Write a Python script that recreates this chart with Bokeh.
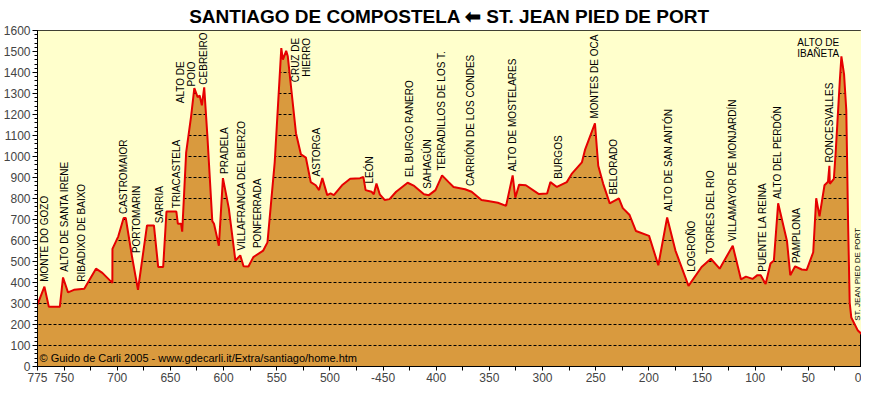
import math
from bokeh.plotting import figure
from bokeh.models import Range1d, FixedTicker, Label
from bokeh.core.properties import value
from bokeh.embed import file_html
from bokeh.resources import INLINE

# ---- profile data (km to Santiago, elevation m) ----
KM = [775, 768.5, 764.3, 754, 751, 746.3, 740.7, 731, 720, 714, 704.6, 704.5, 699, 694, 692,
      686, 680.5, 672, 665.5, 661.5, 656.8, 653.7, 644.4, 643, 640, 638.9, 635.2, 630.6, 627.5,
      624.4, 622.5, 620.4, 618.2, 615.2, 610.6, 609, 604.4, 600.6, 595.1, 588.9, 584.3, 581.2,
      576.6, 572, 562.7, 558.7, 551.9, 545.7, 544.2, 541.1, 539.6, 536.5, 531.9, 527.2, 522.6,
      518, 513.3, 510.2, 507.1, 502.5, 499.4, 496.3, 488.6, 480.9, 471.7, 468.5, 466.4, 460.8,
      458.7, 456.2, 453.1, 448.5, 443.9, 437.7, 426.9, 420.7, 411.5, 406.9, 400.7, 394.5, 388.3,
      383.7, 372.9, 366.7, 357.4, 351.3, 342, 334.3, 328.1, 325.6, 322, 315.7, 303.4, 295.7,
      292.6, 286.5, 277.2, 272.6, 263, 259.9, 255.3, 250.7, 247.6, 243, 236.8, 228.2, 224.5,
      218.3, 212.1, 199.8, 191.1, 182.8, 175, 162.7, 150.4, 141.7, 133.4, 121.1, 113.4, 108.7,
      102.5, 97.9, 94.8, 90.2, 85.6, 82.4, 78.4, 70.1, 67, 62.4, 56.2, 51.6, 45.4, 42.6, 39.5,
      34.8, 31.5, 30.2, 29.8, 26, 24.3, 20.4, 18.9, 16.4, 14.3, 12.7, 11.1, 9.6, 3.4, 0]
ELEV = [295, 380, 284, 284, 424, 353, 365, 370, 466, 446, 398, 560, 620, 707, 707,
        520, 365, 672, 672, 474, 474, 738, 738, 680, 680, 642, 1018, 1189, 1326,
        1283, 1290, 1244, 1329, 1096, 692, 680, 575, 897, 754, 505, 529, 477,
        476, 521, 552, 591, 972, 1516, 1461, 1503, 1477, 1329, 1111, 1010, 995,
        878, 863, 840, 897, 816, 824, 816, 863, 894, 897, 902, 840, 832,
        820, 871, 820, 793, 797, 832, 875, 860, 820, 816, 840, 910, 878,
        855, 844, 832, 793, 788, 780, 765, 910, 804, 866, 863, 821, 824,
        878, 855, 878, 917, 972, 1034, 1096, 1158, 956, 871, 777, 801, 754,
        723, 645, 622, 482, 710, 552, 384, 474, 513, 466, 575, 415, 428,
        417, 435, 435, 393, 490, 505, 777, 598, 435, 477, 462, 459, 544, 801, 715,
        863, 880, 956, 870, 894, 1018, 1360, 1477, 1391, 1220, 708, 303, 233, 171, 155]

# ---- place labels (rotated, placed by their lower end) ----
PLACES = ["MONTE DO GOZO", "ALTO DE SANTA IRENE", "RIBADIXO DE BAIXO", "CASTROMAIOR",
          "PORTOMARIN", "SARRIA", "TRIACASTELA", "CEBREIRO", "PRADELA",
          "VILLAFRANCA DEL BIERZO", "PONFERRADA", "ASTORGA", "LEÓN", "EL BURGO RANERO",
          "SAHAGÚN", "TERRADILLOS DE LOS T.", "CARRIÓN DE LOS CONDES", "ALTO DE MOSTELARES",
          "BURGOS", "MONTES DE OCA", "BELORADO", "ALTO DE SAN ANTÓN", "LOGROÑO",
          "TORRES DEL RIO", "VILLAMAYOR DE MONJARDÍN", "PUENTE LA REINA", "ALTO DEL PERDÓN",
          "PAMPLONA", "RONCESVALLES"]
PLACE_KM = [768, 750, 734, 694.5, 681.5, 660.6, 644.4, 619.2, 599.1, 583.4, 568.3, 512.4,
            462.4, 425.4, 408.3, 395, 367.3, 328.1, 284.9, 250.7, 232.8, 181.8, 159.6, 141.7,
            121, 93.2, 78.7, 61.5, 30.2]
PLACE_ELEV = [403, 451, 404, 726, 540, 682, 754, 1342, 917, 552, 564, 905, 871, 902, 847,
              933, 860, 928, 894, 1181, 819, 738, 451, 535, 595, 451, 798, 493, 972]

# two-line rotated labels (placed by their upper end)
PEAKS = ["ALTO DE\nPOIO", "CRUZ DE\nHIERRO"]
PEAK_KM = [635.8, 527.5]
PEAK_TOP = [1453, 1565]

# horizontal label
TOP_LABEL = ["ALTO DE\nIBAÑETA"]
TOP_KM = [40.7]
TOP_ELEV = [1516]

# start label
START = ["ST. JEAN PIED DE PORT"]
START_KM = [3.9]
START_ELEV = [218]

# ---- axes ----
X_TICKS = [775, 750, 725, 700, 675, 650, 625, 600, 575, 550, 525, 500, 475, 450, 425, 400,
           375, 350, 325, 300, 275, 250, 225, 200, 175, 150, 125, 100, 75, 50, 25, 0]
X_TICK_LABELS = ["775", "750", "", "700", "", "650", "", "600", "", "550", "", "500", "",
                 "-450", "", "400", "", "350", "", "300", "", "250", "", "200", "", "150", "",
                 "100", "", "50", "", "0"]
Y_TICKS = list(range(0, 1700, 100))
Y_MINOR = list(range(0, 1620, 20))

TITLE = "SANTIAGO DE COMPOSTELA \u2B05 ST. JEAN PIED DE PORT"
CREDIT = "\u00A9 Guido de Carli 2005 - www.gdecarli.it/Extra/santiago/home.htm"

YELLOW = "#FFFFCC"
ORANGE = "#D99A3E"
RED = "#E60000"
FONT = "Liberation Sans"

p = figure(width=861, height=384, output_backend="svg", toolbar_location=None,
           x_range=Range1d(775, 0), y_range=Range1d(0, 1600))
p.min_border_left = 4
p.min_border_right = 0
p.min_border_top = 0
p.min_border_bottom = 0
p.background_fill_color = ORANGE
p.border_fill_color = "white"
p.outline_line_color = "black"
p.outline_line_width = 1

p.title.text = TITLE
p.title.align = "center"
p.title.text_font = FONT
p.title.text_font_size = "19px"
p.title.text_font_style = "bold"
p.title.text_color = "black"
p.title.standoff = 7

# grid: dashed, visible only on the filled part
p.xgrid.visible = False
p.ygrid.grid_line_color = "black"
p.ygrid.grid_line_dash = "3 2"
p.ygrid.grid_line_width = 1

# sky above the profile
p.varea(x=KM, y1=ELEV, y2=1600, fill_color=YELLOW)
p.line(KM, ELEV, line_color=RED, line_width=2)

ax = p.xaxis[0]
ax.ticker = FixedTicker(ticks=X_TICKS)
ax.major_label_overrides = {t: lab for t, lab in zip(X_TICKS, X_TICK_LABELS)}
ax.minor_tick_line_color = None
ax.major_tick_in = 0
ax.major_tick_out = 4
ax.major_label_standoff = 2
ax.major_label_text_font = FONT
ax.major_label_text_font_size = "12px"
ax.axis_line_color = "black"

ay = p.yaxis[0]
ay.ticker = FixedTicker(ticks=Y_TICKS, minor_ticks=Y_MINOR)
ay.major_tick_in = 0
ay.major_tick_out = 5
ay.minor_tick_in = 0
ay.minor_tick_out = 3
ay.major_label_standoff = 2
ay.major_label_text_font = FONT
ay.major_label_text_font_size = "12px"
ay.axis_line_color = "black"

p.text(x=PLACE_KM, y=PLACE_ELEV, text=PLACES, angle=math.pi / 2,
       text_align="left", text_baseline="middle", text_font=value(FONT),
       text_font_size="10px", text_color="black")
p.text(x=PEAK_KM, y=PEAK_TOP, text=PEAKS, angle=math.pi / 2,
       text_align="right", text_baseline="middle", text_font=value(FONT),
       text_font_size="10px", text_color="black", text_line_height=1.0)
p.text(x=TOP_KM, y=TOP_ELEV, text=TOP_LABEL, angle=0,
       text_align="center", text_baseline="middle", text_font=value(FONT),
       text_font_size="10px", text_color="black", text_line_height=1.0)
p.text(x=START_KM, y=START_ELEV, text=START, angle=math.pi / 2,
       text_align="left", text_baseline="middle", text_font=value(FONT),
       text_font_size="8px", text_color="black")

p.add_layout(Label(x=775, y=0, text=CREDIT, x_offset=2, y_offset=3,
                   text_font=FONT, text_font_size="11px", text_color="black",
                   text_baseline="bottom"))

open("out.html", "w").write(file_html(p, INLINE))
